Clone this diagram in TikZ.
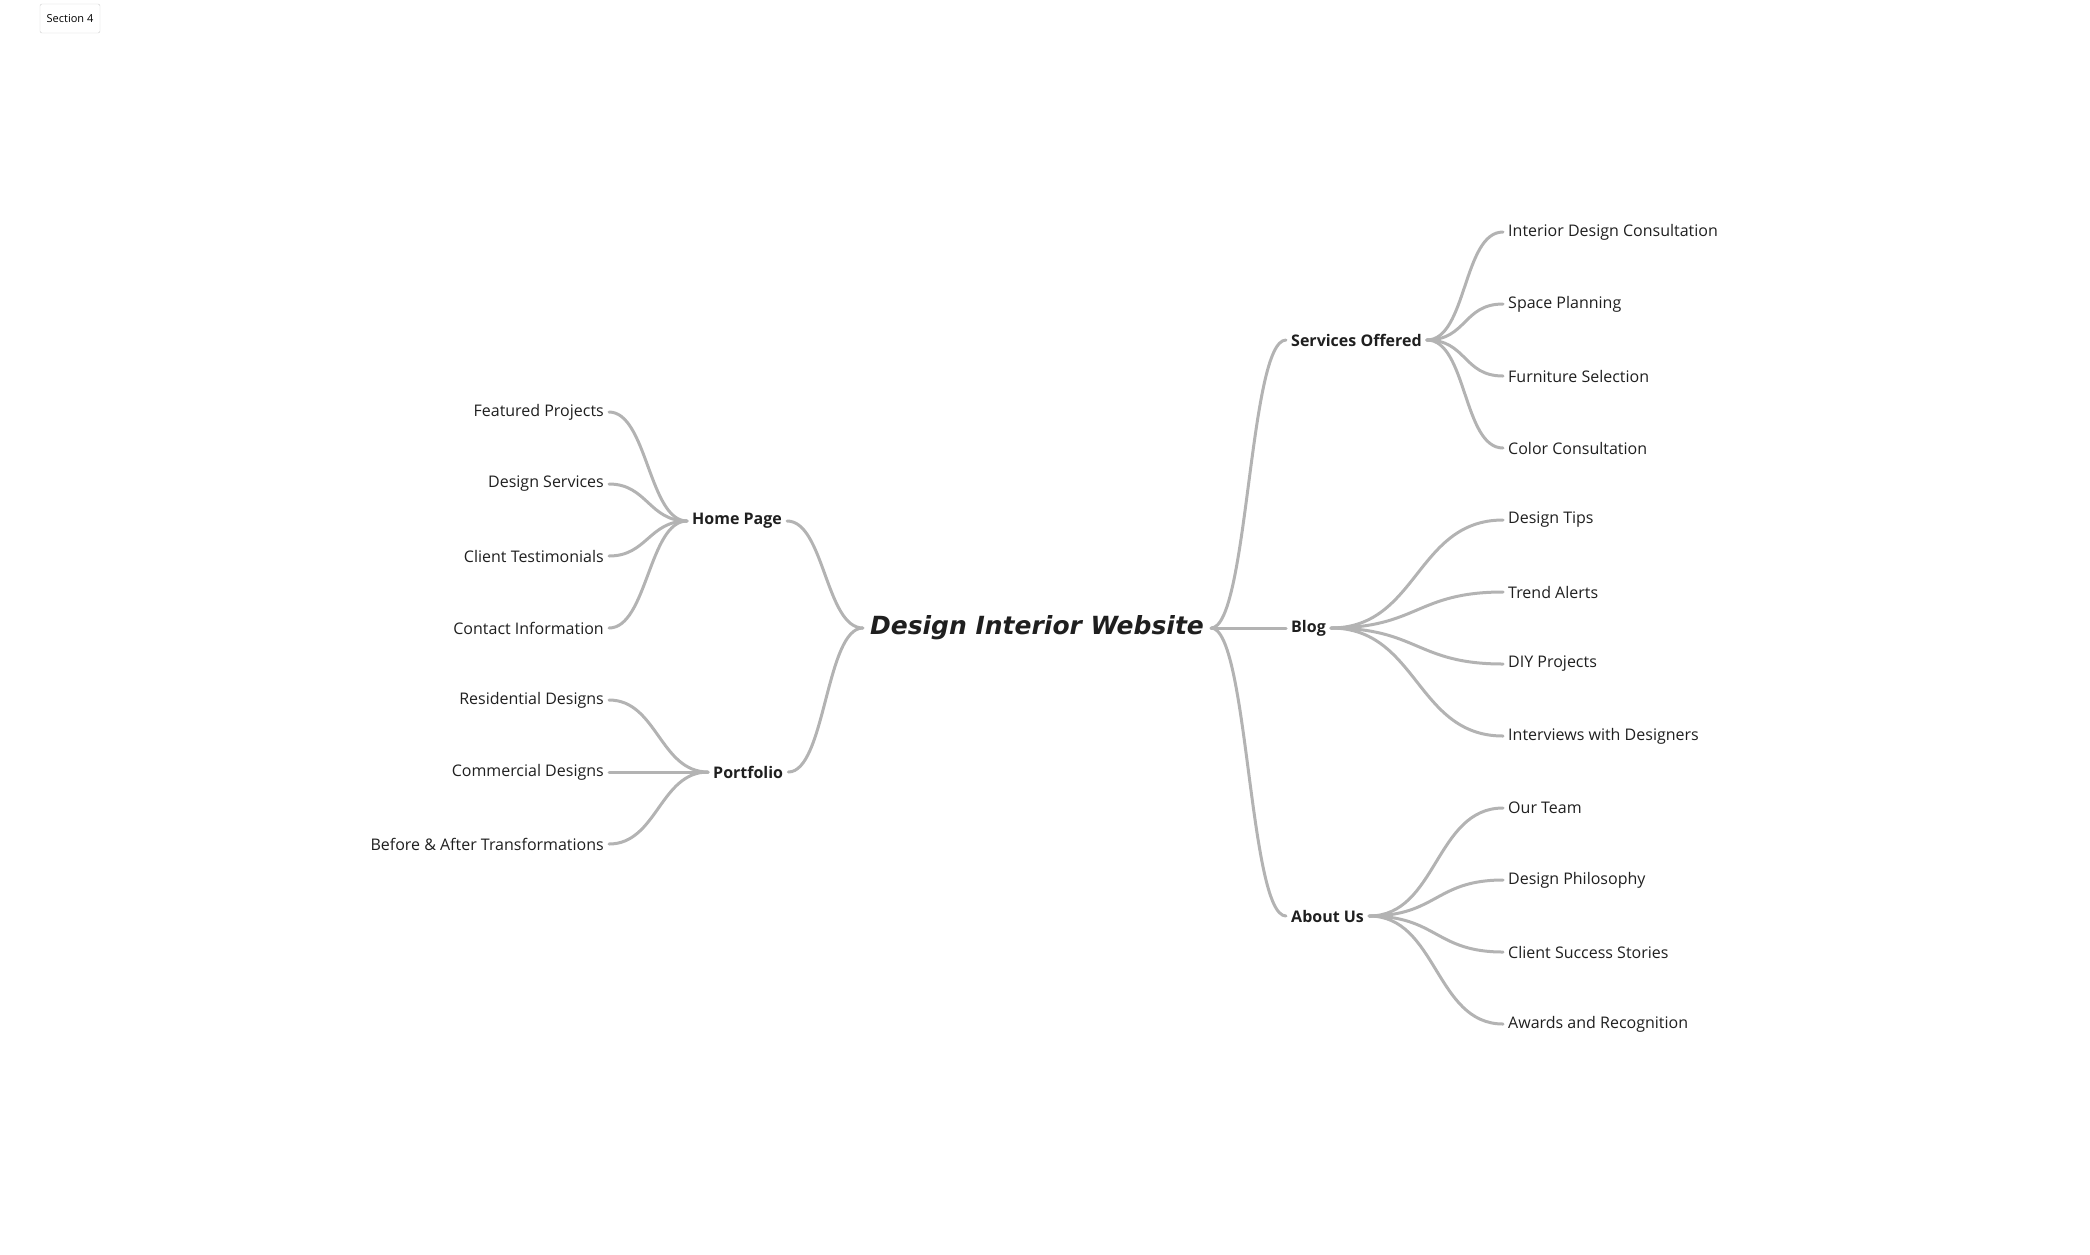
\documentclass[tikz,border=0pt]{standalone}
\usepackage{fontspec}
\setmainfont{Open Sans}
\newfontfamily\rootfont{DejaVu Sans}
\usetikzlibrary{positioning}
\definecolor{linkgray}{HTML}{B3B3B3}
\definecolor{inkdark}{HTML}{1F1F1F}

\begin{document}
\begin{tikzpicture}[
    x=1pt, y=-1pt,
    leaf/.style={inner sep=5pt, text=inkdark, font=\fontsize{16}{18}\selectfont},
    topic/.style={leaf, font=\fontsize{16}{18}\selectfont\bfseries},
    root/.style={inner sep=7pt, text=inkdark, font=\rootfont\fontsize{25}{28}\selectfont\bfseries\itshape},
    tag/.style={draw=black!20, rounded corners=2pt, minimum width=60pt, minimum height=29pt,
                inner sep=0pt, font=\fontsize{11}{12}\selectfont},
    link/.style={draw=linkgray, line width=3pt, line cap=round},
]
    \useasboundingbox (0,0) rectangle (2090,1254);
    \node[tag] (sec) at (70,18.5) {Section 4};

    % centre
    \node[root] (root) at (1037,628) {Design Interior Website};

    % left side
    \node[topic, anchor=west] (home) at (687,521) {Home Page};
    \node[topic, anchor=west] (port) at (708,772) {Portfolio};

    \node[leaf, anchor=east] (fp) at (609,412) {Featured Projects};
    \node[leaf, anchor=east] (dsv) at (609,484) {Design Services};
    \node[leaf, anchor=east] (ct) at (609,556) {Client Testimonials};
    \node[leaf, anchor=east] (ci) at (609,628) {Contact Information};
    \node[leaf, anchor=east] (rd) at (609,700) {Residential Designs};
    \node[leaf, anchor=east] (cd) at (609,772) {Commercial Designs};
    \node[leaf, anchor=east] (ba) at (609,844) {Before \& After Transformations};

    % right side
    \node[topic, anchor=west] (serv) at (1286,340) {Services Offered};
    \node[topic, anchor=west] (blog) at (1286,628) {Blog};
    \node[topic, anchor=west] (about) at (1286,916) {About Us};

    \node[leaf, anchor=west] (idc) at (1503,232) {Interior Design Consultation};
    \node[leaf, anchor=west] (sp) at (1503,304) {Space Planning};
    \node[leaf, anchor=west] (fs) at (1503,376) {Furniture Selection};
    \node[leaf, anchor=west] (cc) at (1503,448) {Color Consultation};
    \node[leaf, anchor=west] (dt) at (1503,520) {Design Tips};
    \node[leaf, anchor=west] (ta) at (1503,592) {Trend Alerts};
    \node[leaf, anchor=west] (diy) at (1503,664) {DIY Projects};
    \node[leaf, anchor=west] (iwd) at (1503,736) {Interviews with Designers};
    \node[leaf, anchor=west] (ot) at (1503,808) {Our Team};
    \node[leaf, anchor=west] (dp) at (1503,880) {Design Philosophy};
    \node[leaf, anchor=west] (css) at (1503,952) {Client Success Stories};
    \node[leaf, anchor=west] (ar) at (1503,1024) {Awards and Recognition};

    % links
    \draw[link] (home.east) .. controls +(37,0) and +(-37,0) .. (root.west);
    \draw[link] (port.east) .. controls +(37,0) and +(-37,0) .. (root.west);
    \draw[link] (root.east) .. controls +(37,0) and +(-37,0) .. (serv.west);
    \draw[link] (root.east) -- (blog.west);
    \draw[link] (root.east) .. controls +(37,0) and +(-37,0) .. (about.west);

    \draw[link] (fp.east) .. controls +(38,0) and +(-38,0) .. (home.west);
    \draw[link] (dsv.east) .. controls +(38,0) and +(-38,0) .. (home.west);
    \draw[link] (ct.east) .. controls +(38,0) and +(-38,0) .. (home.west);
    \draw[link] (ci.east) .. controls +(38,0) and +(-38,0) .. (home.west);
    \draw[link] (rd.east) .. controls +(48,0) and +(-48,0) .. (port.west);
    \draw[link] (cd.east) -- (port.west);
    \draw[link] (ba.east) .. controls +(48,0) and +(-48,0) .. (port.west);

    \draw[link] (serv.east) .. controls +(40,0) and +(-40,0) .. (idc.west);
    \draw[link] (serv.east) .. controls +(40,0) and +(-40,0) .. (sp.west);
    \draw[link] (serv.east) .. controls +(40,0) and +(-40,0) .. (fs.west);
    \draw[link] (serv.east) .. controls +(40,0) and +(-40,0) .. (cc.west);
    \draw[link] (blog.east) .. controls +(87,0) and +(-87,0) .. (dt.west);
    \draw[link] (blog.east) .. controls +(87,0) and +(-87,0) .. (ta.west);
    \draw[link] (blog.east) .. controls +(87,0) and +(-87,0) .. (diy.west);
    \draw[link] (blog.east) .. controls +(87,0) and +(-87,0) .. (iwd.west);
    \draw[link] (about.east) .. controls +(68,0) and +(-68,0) .. (ot.west);
    \draw[link] (about.east) .. controls +(68,0) and +(-68,0) .. (dp.west);
    \draw[link] (about.east) .. controls +(68,0) and +(-68,0) .. (css.west);
    \draw[link] (about.east) .. controls +(68,0) and +(-68,0) .. (ar.west);
\end{tikzpicture}
\end{document}
